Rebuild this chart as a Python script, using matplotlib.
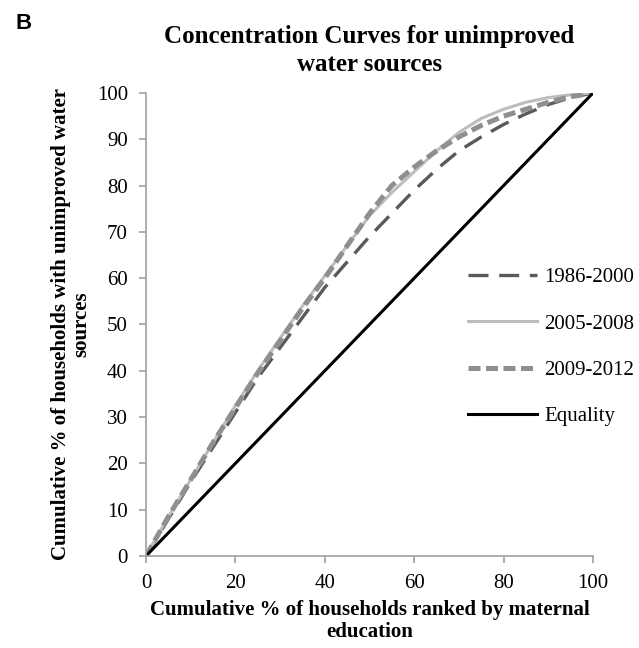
import matplotlib
matplotlib.use('Agg')
import matplotlib.pyplot as plt

# cumulative % of households ranked by maternal education
pct = [0, 5, 10, 15, 20, 25, 30, 35, 40, 45, 50, 55, 60, 65, 70, 75, 80, 85, 90, 95, 100]
c1986 = [0, 8, 16, 23.5, 31, 38.5, 45, 51.5, 58, 63.5, 69, 74, 79, 83.5, 87.5, 90.5, 93.2, 95.5, 97.5, 99, 100]
c2005 = [0, 8.5, 16.5, 24.5, 32.5, 40, 47, 54, 60.5, 67, 73.5, 78.5, 83, 87.5, 91.5, 94.5, 96.5, 98, 99, 99.6, 100]
c2009 = [0, 8.5, 16.5, 24.5, 32, 39.5, 46.5, 53.5, 60, 67, 74, 80, 84, 87.5, 90.5, 93, 95, 96.5, 98, 99.2, 100]
equality = [0, 100]
eq_pct = [0, 100]

plt.rcParams['font.family'] = ['Liberation Serif', 'DejaVu Serif']

fig = plt.figure(figsize = (6.39, 6.48), dpi = 100)
ax = fig.add_axes([0.2285, 0.142, 0.6995, 0.7145])

ax.plot(pct, c1986, color = '#5a5a5a', lw = 2.4, dashes = (6, 3.2), label = '1986-2000')
ax.plot(pct, c2005, color = '#bdbdbd', lw = 2.2, label = '2005-2008')
ax.plot(pct, c2009, color = '#8f8f8f', lw = 3.6, dashes = (2.4, 1.1), label = '2009-2012')
ax.plot(eq_pct, equality, color = 'black', lw = 2.2, label = 'Equality')

ax.set_xlim(0, 100)
ax.set_ylim(0, 100)
ax.set_xticks(range(0, 101, 20))
ax.set_yticks(range(0, 101, 10))
for side in ['top', 'right']:
    ax.spines[side].set_visible(False)
for side in ['left', 'bottom']:
    ax.spines[side].set_color('#a0a0a0')
    ax.spines[side].set_linewidth(1.2)
ax.tick_params(direction = 'out', length = 5, width = 1.2, color = '#a0a0a0', labelsize = 15, pad = 8)

ax.set_title("Concentration Curves for unimproved\nwater sources", fontsize = 18, fontweight = 'bold', pad = 16, linespacing = 1.25)
ax.set_xlabel("Cumulative % of households ranked by maternal\neducation", fontsize = 15, fontweight = 'bold', labelpad = 5, linespacing = 1.15)
ax.set_ylabel("Cumulative % of households with unimproved water\nsources", fontsize = 15, fontweight = 'bold', labelpad = 4, linespacing = 1.05)

ax.legend(loc = 'upper left', bbox_to_anchor = (0.698, 0.645), frameon = False, fontsize = 15,
          handlelength = 3.3, handletextpad = 0.35, labelspacing = 1.28, borderpad = 0)

fig.text(0.025, 0.955, 'B', fontsize = 16, fontweight = 'bold', family = 'Liberation Sans')

fig.savefig('out.png', dpi = 100)
